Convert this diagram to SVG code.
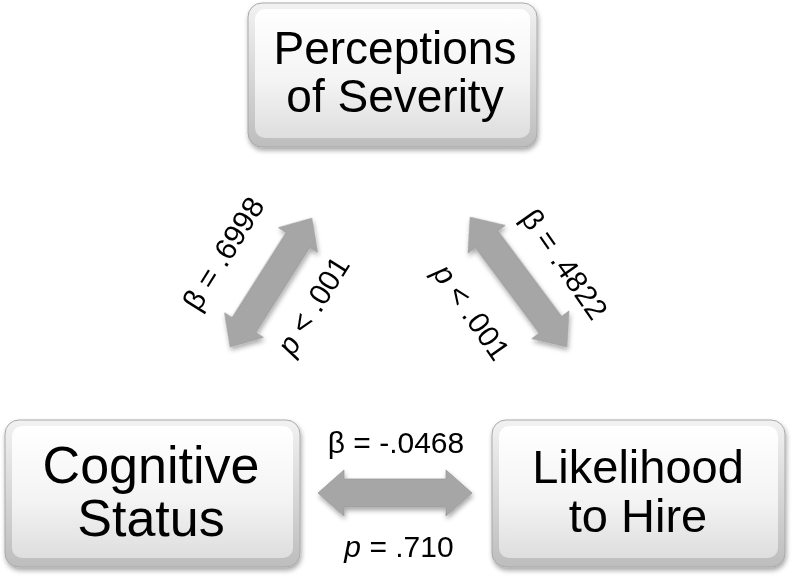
<svg xmlns="http://www.w3.org/2000/svg" width="792" height="579" viewBox="0 0 792 579">
<defs>
<linearGradient id="edge" x1="0" y1="0" x2="0" y2="1">
<stop offset="0" stop-color="#f2f2f2"/>
<stop offset="1" stop-color="#bdbdbd"/>
</linearGradient>
<linearGradient id="face" x1="0" y1="0" x2="0" y2="1">
<stop offset="0" stop-color="#ffffff"/>
<stop offset="0.55" stop-color="#f4f4f4"/>
<stop offset="1" stop-color="#dedede"/>
</linearGradient>
<filter id="sh" x="-10%" y="-10%" width="125%" height="130%">
<feGaussianBlur in="SourceAlpha" stdDeviation="2.5"/>
<feOffset dx="1" dy="3" result="b"/>
<feComponentTransfer><feFuncA type="linear" slope="0.35"/></feComponentTransfer>
<feMerge><feMergeNode/><feMergeNode in="SourceGraphic"/></feMerge>
</filter>
<path id="arr" d="M-77,0 L-51,-23 L-51,-14 L51,-14 L51,-23 L77,0 L51,23 L51,14 L-51,14 L-51,23 Z"/>
</defs>
<style>
.edge{fill:url(#edge);stroke:#a8a8a8;stroke-width:1}
.face{fill:url(#face)}
.lbl{font-family:"Liberation Sans",Arial,sans-serif;fill:#000;text-anchor:middle}
.stat{font-family:"Liberation Sans",Arial,sans-serif;fill:#000;font-size:30px;text-anchor:middle}
.arrow{fill:#a6a6a6;stroke:#9a9a9a;stroke-width:0.8}
</style>
<rect width="792" height="579" fill="#ffffff"/>

<g id="connectors" filter="url(#sh)">
<path class="arrow" d="M318,493 L344,470 L344,479 L446,479 L446,470 L472,493 L446,516 L446,507 L344,507 L344,516 Z"/>
<g transform="translate(271,282.5) rotate(-57.6) scale(0.99,1)"><use href="#arr" class="arrow"/></g>
<g transform="translate(518.5,282) rotate(53.3) scale(1.05,1)"><use href="#arr" class="arrow"/></g>
</g>

<g id="labels">
<text class="stat" x="396" y="453">β = -.0468</text>
<text class="stat" x="399" y="557"><tspan font-style="italic">p</tspan> = .710</text>
<text class="stat" transform="translate(232,259) rotate(-58)">β = .6998</text>
<text class="stat" transform="translate(322,311) rotate(-58)"><tspan font-style="italic">p</tspan> &lt; .001</text>
<text class="stat" transform="translate(556,270) rotate(55)">β = .4822</text>
<text class="stat" transform="translate(463,318) rotate(55)"><tspan font-style="italic">p</tspan> &lt; .001</text>
</g>

<g id="node-severity" filter="url(#sh)">
<rect class="edge" x="248" y="3" width="289" height="144" rx="14"/>
<rect class="face" x="255" y="9" width="275" height="129" rx="10"/>
<text class="lbl" x="395" y="64" font-size="46">Perceptions</text>
<text class="lbl" x="395" y="112" font-size="46">of Severity</text>
</g>

<g id="node-cognitive" filter="url(#sh)">
<rect class="edge" x="5" y="420" width="295" height="147" rx="14"/>
<rect class="face" x="12" y="426" width="281" height="132" rx="10"/>
<text class="lbl" x="151" y="483" font-size="52">Cognitive</text>
<text class="lbl" x="151" y="536" font-size="52">Status</text>
</g>

<g id="node-likelihood" filter="url(#sh)">
<rect class="edge" x="492" y="420" width="293" height="147" rx="14"/>
<rect class="face" x="499" y="426" width="279" height="132" rx="10"/>
<text class="lbl" x="638" y="483" font-size="47">Likelihood</text>
<text class="lbl" x="638" y="532" font-size="47">to Hire</text>
</g>
</svg>
